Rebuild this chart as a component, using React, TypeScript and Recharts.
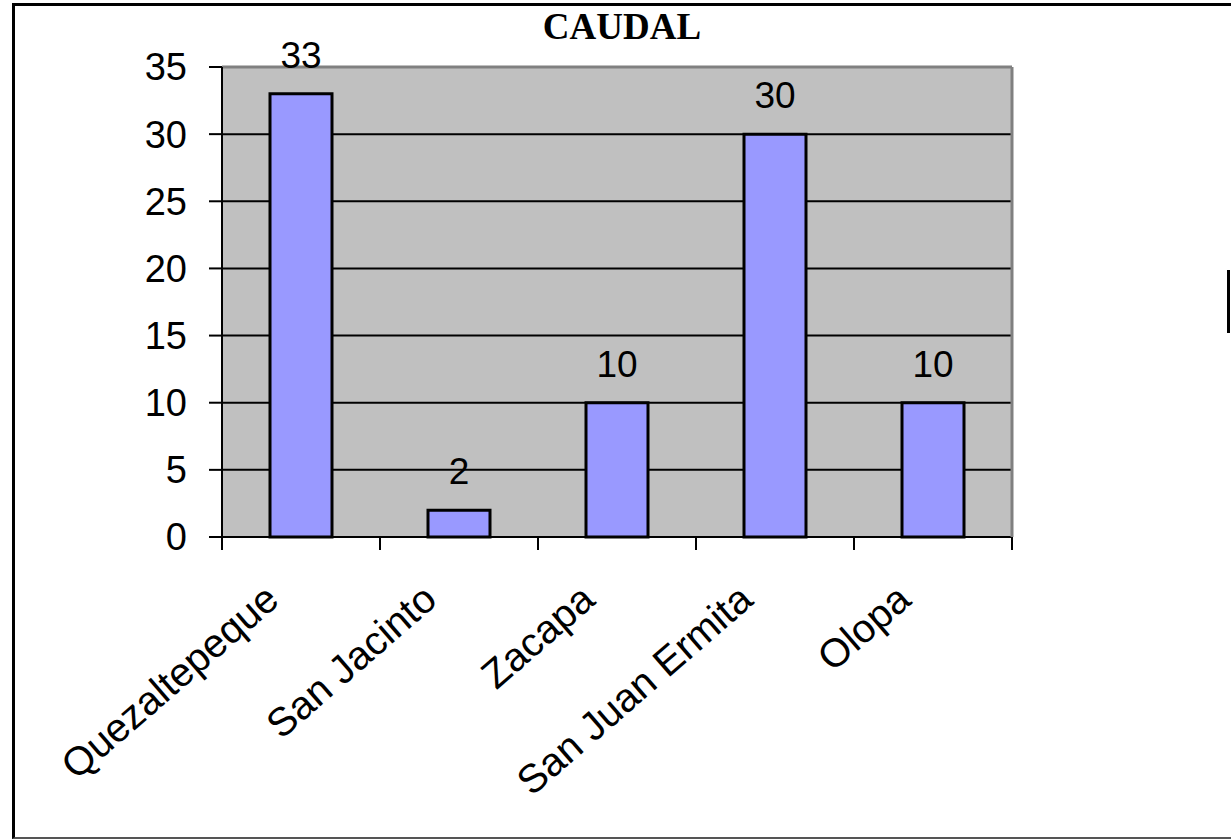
import React from "react";
import { BarChart, Bar, XAxis, YAxis, CartesianGrid } from "recharts";

const places = ["Quezaltepeque", "San Jacinto", "Zacapa", "San Juan Ermita", "Olopa"];
const caudal = [33, 2, 10, 30, 10];
const yTicks = [0, 5, 10, 15, 20, 25, 30, 35];

const data = places.map((name, i) => ({ name, caudal: caudal[i] }));

const FONT = "'Liberation Sans', Arial, sans-serif";

// category label, plus the tick marks that sit between categories (Excel style)
const PlaceTick = (props: any) => {
  const { x, y, payload, visibleTicksCount } = props;
  const half = payload.offset || 0;
  const axisY = y - 8;
  const px = x - 20;
  const py = y + 58;
  const isLast = payload.index === visibleTicksCount - 1;
  return (
    <g>
      <line x1={x - half} x2={x - half} y1={axisY} y2={axisY + 13} stroke="#000" strokeWidth={2} />
      {isLast && (
        <line x1={x + half} x2={x + half} y1={axisY} y2={axisY + 13} stroke="#000" strokeWidth={2} />
      )}
      <text
        x={px}
        y={py}
        textAnchor="end"
        fontSize={40}
        fontFamily={FONT}
        fill="#000"
        transform={`rotate(-41, ${px}, ${py})`}
      >
        {payload.value}
      </text>
    </g>
  );
};

export default function App() {
  return (
    <div
      style={{
        position: "absolute",
        left: 0,
        top: 0,
        width: 1231,
        height: 839,
        overflow: "hidden",
        background: "#fff",
      }}
    >
      {/* frame */}
      <div
        style={{
          position: "absolute",
          left: 12,
          top: 3,
          width: 1240,
          height: 836,
          boxSizing: "border-box",
          borderLeft: "3px solid #000",
          borderTop: "3px solid #000",
          borderBottom: "2px solid #555",
        }}
      />
      <div
        style={{
          position: "absolute",
          left: 1227,
          top: 270,
          width: 3,
          height: 63,
          background: "#000",
        }}
      />
      <div
        style={{
          position: "absolute",
          left: 0,
          width: 1244,
          top: 5,
          textAlign: "center",
          fontFamily: "'Liberation Serif', 'Times New Roman', serif",
          fontWeight: "bold",
          fontSize: 37,
          color: "#000",
        }}
      >
        CAUDAL
      </div>
      <div style={{ position: "absolute", left: 0, top: 0 }}>
        <BarChart
          width={1231}
          height={839}
          data={data}
          margin={{ top: 66, right: 218, bottom: 2, left: 12 }}
        >
          <CartesianGrid vertical={false} stroke="#000" strokeWidth={2} fill="#C0C0C0" />
          <XAxis
            dataKey="name"
            interval={0}
            height={300}
            axisLine={{ stroke: "#000", strokeWidth: 2 }}
            tickLine={false}
            tick={<PlaceTick />}
          />
          <XAxis
            xAxisId="top"
            dataKey="name"
            orientation="top"
            height={1}
            axisLine={{ stroke: "#808080", strokeWidth: 3 }}
            tickLine={false}
            tick={false}
          />
          <YAxis
            width={210}
            domain={[0, 35]}
            ticks={yTicks}
            interval={0}
            axisLine={{ stroke: "#000", strokeWidth: 2 }}
            tickLine={{ stroke: "#000", strokeWidth: 2 }}
            tickSize={13}
            tickMargin={22}
            tick={{ fontSize: 38, fontFamily: FONT, fill: "#000" }}
          />
          <YAxis
            yAxisId="right"
            orientation="right"
            width={1}
            domain={[0, 35]}
            axisLine={{ stroke: "#808080", strokeWidth: 3 }}
            tickLine={false}
            tick={false}
          />
          <Bar
            dataKey="caudal"
            fill="#9999FF"
            stroke="#000"
            strokeWidth={3}
            barSize={62}
            isAnimationActive={false}
            label={{ position: "top", offset: 26, fontSize: 37, fontFamily: FONT, fill: "#000" }}
          />
        </BarChart>
      </div>
    </div>
  );
}
